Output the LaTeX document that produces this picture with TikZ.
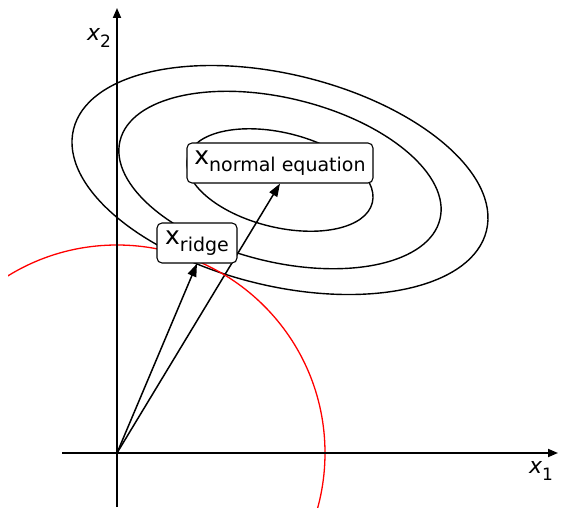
\documentclass[tikz,border=0pt]{standalone}
\usepackage{fontspec}
\setmainfont{DejaVu Sans}
\usetikzlibrary{arrows.meta,backgrounds}
\newcommand\subtxt[1]{\raisebox{-0.3em}{\fontsize{19}{19}\selectfont #1}}
\newcommand\axsub[1]{\raisebox{-0.32em}{\fontsize{17}{17}\selectfont #1}}
\begin{document}
\begin{tikzpicture}[x=1pt,y=1pt,
  axisline/.style={line width=1.8pt,-{Triangle[length=10pt,width=8pt]}},
  vecarrow/.style={line width=1.5pt,-{Triangle[length=13pt,width=9pt]}},
  contour/.style={line width=1.4pt},
  labelbox/.style={draw,line width=1.1pt,rounded corners=5pt,fill=white,inner sep=0pt,minimum height=40pt,font=\fontsize{25}{25}\selectfont},
  axislabel/.style={font=\fontsize{22}{22}\selectfont\itshape,inner sep=0pt}]
\useasboundingbox (0,0) rectangle (562,507);
\coordinate (O) at (117,54);
\coordinate (C) at (280,327);
% contours
\draw[contour,rotate around={-13.8:(C)}] (C) ellipse [x radius=212.6, y radius=105.7];
\draw[contour,rotate around={-13.8:(C)}] (C) ellipse [x radius=164.7, y radius=81.9];
\draw[contour,rotate around={-13.8:(C)}] (C) ellipse [x radius=95.1, y radius=47.3];
% constraint circle
\begin{scope}
\clip (8,0) rectangle (562,507);
\draw[red,line width=1.3pt] (O) circle [radius=208];
\end{scope}
% axes
\coordinate (xs) at (62,54);
\coordinate (xe) at (558,54);
\coordinate (ys) at (117,0);
\coordinate (ye) at (117,499);
\draw[axisline] (xs) -- (xe);
\draw[axisline] (ys) -- (ye);
\node[axislabel] (lx1) at (541,36) {x\axsub{\upshape 1}};
\node[axislabel] (lx2) at (99,469) {x\axsub{\upshape 2}};
% boxes
\node[labelbox,minimum width=186pt] (ne) at (280,344) {x\subtxt{normal equation}};
\node[labelbox,minimum width=80pt] (rd) at (197,264) {x\subtxt{ridge}};
% vectors
\begin{scope}[on background layer]
\draw[vecarrow] (O) -- (ne.south);
\draw[vecarrow] (O) -- (rd.south);
\end{scope}
\end{tikzpicture}
\end{document}
